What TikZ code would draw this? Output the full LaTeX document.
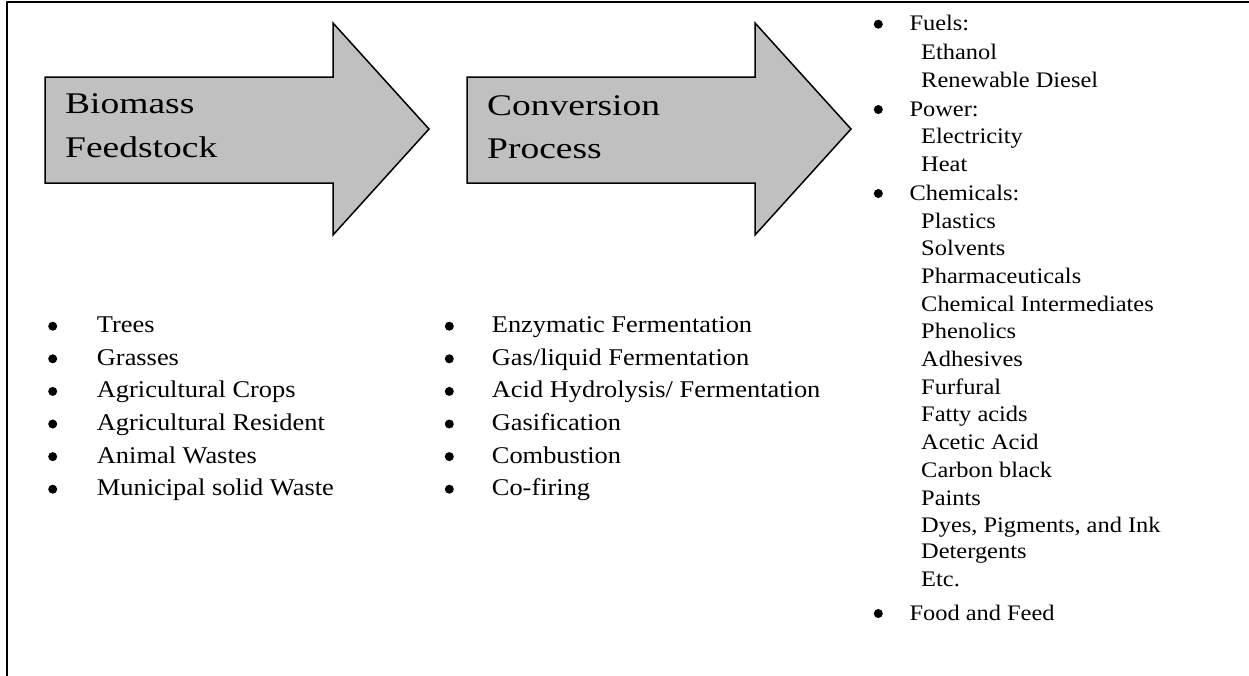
\documentclass[tikz,border=0pt]{standalone}
\usepackage{fontspec}
\setmainfont{Liberation Serif}[FakeStretch=1.1]
\newfontfamily\arrowfont{Liberation Serif}[FakeStretch=1.25]
\usepackage{tikz}

\definecolor{arrowgray}{RGB}{192,192,192}

\tikzset{
  bigarrow/.style={draw=black, line width=1.5pt, fill=arrowgray, line join=miter},
  headtxt/.style={anchor=base west, inner sep=0pt, font=\arrowfont\fontsize{30}{36}\selectfont},
  itemtxt/.style={anchor=base west, inner sep=0pt, font=\fontsize{24}{28}\selectfont},
  prodtxt/.style={anchor=base west, inner sep=0pt, font=\fontsize{22.2}{27}\selectfont},
  bulletmark/.style={circle, fill=black, inner sep=0pt, minimum size=9pt},
}

\begin{document}
\begin{tikzpicture}[x=1pt, y=-1pt, line cap=round, line join=round]

  %% ════ 外框（只有左边和上边）════
  \draw[line width=2pt] (7,680) -- (7,2) -- (1255,2);

  %% ════ 两个大箭头 ════
  \draw[bigarrow] (45,77) -- (333,77) -- (333,23) -- (429,129) -- (333,235) -- (333,183) -- (45,183) -- cycle;
  \draw[bigarrow] (467,77) -- (755,77) -- (755,23) -- (851,129) -- (755,235) -- (755,183) -- (467,183) -- cycle;

  \node[headtxt] (feedA) at (65,113.3) {Biomass};
  \node[headtxt] (feedB) at (65,157.3) {Feedstock};
  \node[headtxt] (convA) at (487,115) {Conversion};
  \node[headtxt] (convB) at (487,158.3) {Process};

  %% ════ 左列：原料（圆点 = 基线上移 6.5）════
  \node[bulletmark] (fb1) at (52.7,326.2) {};
  \node[bulletmark] (fb2) at (52.7,358.8) {};
  \node[bulletmark] (fb3) at (52.7,391.4) {};
  \node[bulletmark] (fb4) at (52.7,424.0) {};
  \node[bulletmark] (fb5) at (52.7,456.6) {};
  \node[bulletmark] (fb6) at (52.7,489.2) {};
  \node[itemtxt] (feed1) at (96.7,332.7) {Trees};
  \node[itemtxt] (feed2) at (96.7,365.3) {Grasses};
  \node[itemtxt] (feed3) at (96.7,397.9) {Agricultural Crops};
  \node[itemtxt] (feed4) at (96.7,430.5) {Agricultural Resident};
  \node[itemtxt] (feed5) at (96.7,463.1) {Animal Wastes};
  \node[itemtxt] (feed6) at (96.7,495.7) {Municipal solid Waste};

  %% ════ 中列：转化工艺 ════
  \node[bulletmark] (cb1) at (449.3,326.2) {};
  \node[bulletmark] (cb2) at (449.3,358.8) {};
  \node[bulletmark] (cb3) at (449.3,391.4) {};
  \node[bulletmark] (cb4) at (449.3,424.0) {};
  \node[bulletmark] (cb5) at (449.3,456.6) {};
  \node[bulletmark] (cb6) at (449.3,489.2) {};
  \node[itemtxt] (conv1) at (491.7,332.7) {Enzymatic Fermentation};
  \node[itemtxt] (conv2) at (491.7,365.3) {Gas/liquid Fermentation};
  \node[itemtxt] (conv3) at (491.7,397.9) {Acid Hydrolysis/ Fermentation};
  \node[itemtxt] (conv4) at (491.7,430.5) {Gasification};
  \node[itemtxt] (conv5) at (491.7,463.1) {Combustion};
  \node[itemtxt] (conv6) at (491.7,495.7) {Co-firing};

  %% ════ 右列：产品 ════
  \node[bulletmark] (pb1) at (878.3,24.2) {};
  \node[bulletmark] (pb2) at (878.3,109.5) {};
  \node[bulletmark] (pb3) at (878.3,193.5) {};
  \node[bulletmark] (pb4) at (878.3,613.5) {};
  \node[prodtxt] (fuels) at (909.3,30.7) {Fuels:};
  \node[prodtxt] (ethanol) at (921,59.3) {Ethanol};
  \node[prodtxt] (diesel) at (921,87.3) {Renewable Diesel};
  \node[prodtxt] (power) at (909.3,116) {Power:};
  \node[prodtxt] (elec) at (921,143.3) {Electricity};
  \node[prodtxt] (heat) at (921,171.7) {Heat};
  \node[prodtxt] (chem) at (909.3,200) {Chemicals:};
  \node[prodtxt] (plastics) at (921,228.3) {Plastics};
  \node[prodtxt] (solvents) at (921,255) {Solvents};
  \node[prodtxt] (pharma) at (921,283.3) {Pharmaceuticals};
  \node[prodtxt] (interm) at (921,311) {Chemical Intermediates};
  \node[prodtxt] (phenol) at (921,338.8) {Phenolics};
  \node[prodtxt] (adhes) at (921,366.5) {Adhesives};
  \node[prodtxt] (furf) at (921,394.2) {Furfural};
  \node[prodtxt] (fatty) at (921,421.7) {Fatty acids};
  \node[prodtxt] (acetic) at (921,449.3) {Acetic Acid};
  \node[prodtxt] (carbon) at (921,477.3) {Carbon black};
  \node[prodtxt] (paints) at (921,505) {Paints};
  \node[prodtxt] (dyes) at (921,532) {Dyes, Pigments, and Ink};
  \node[prodtxt] (deterg) at (921,558.3) {Detergents};
  \node[prodtxt] (etc) at (921,586.7) {Etc.};
  \node[prodtxt] (food) at (909.3,620) {Food and Feed};

  % 钉死画布
  \pgfresetboundingbox
  \path[use as bounding box] (0,0) rectangle (1249,675);
\end{tikzpicture}
\end{document}
